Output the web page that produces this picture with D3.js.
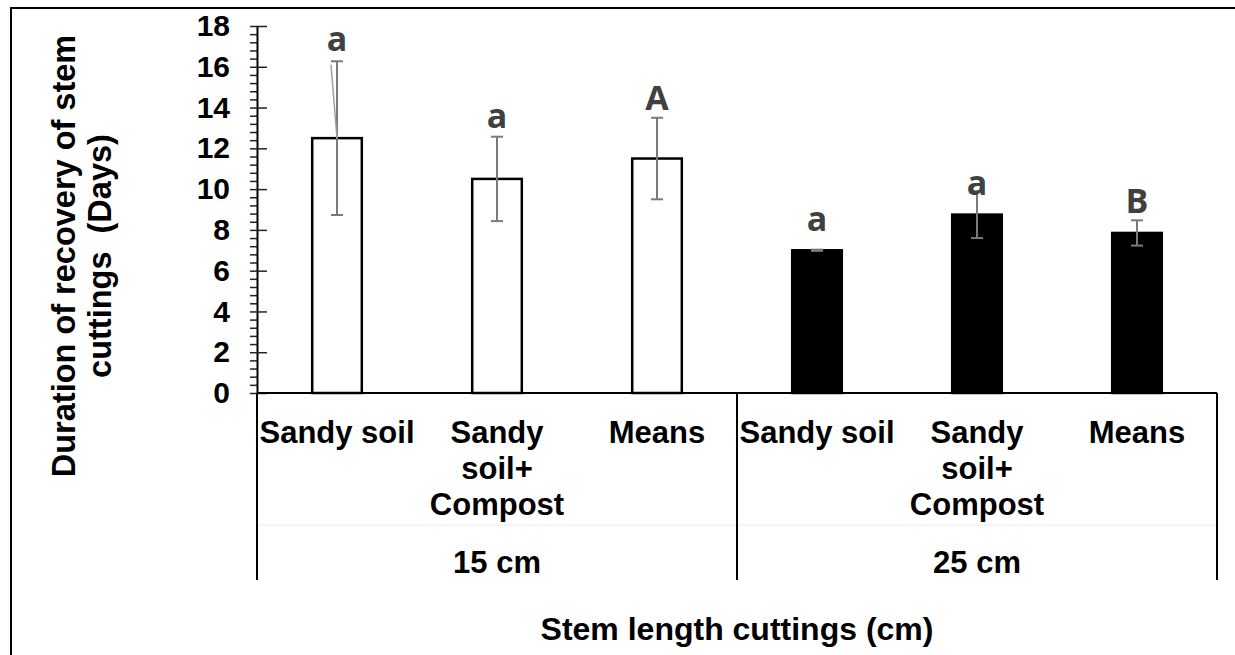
<!DOCTYPE html>
<html>
<head>
<meta charset="utf-8">
<script src="https://cdn.jsdelivr.net/npm/d3@7"></script>
<style>
  body { margin: 0; background: #fff; }
  text { font-family: "Liberation Sans", Arial, sans-serif; font-weight: bold; }
</style>
</head>
<body>
<svg id="chart" width="1235" height="655"></svg>
<script>
// values
let groups = ["15 cm", "25 cm"];
let soils = [["Sandy soil"], ["Sandy", "soil+", "Compost"], ["Means"]];
let means = [12.5, 10.5, 11.5, 7.0, 8.75, 7.85];
let errs = [3.77, 2.07, 2.0, 0.03, 1.15, 0.62];
let letters = ["a", "a", "A", "a", "a", "B"];
let letterAt = [16.75, 13.0, 13.9, 7.93, 9.73, 8.85];
let yTicks = [0, 2, 4, 6, 8, 10, 12, 14, 16, 18];

drawChart();

function drawChart() {
  let svg = d3.select("#chart");

  let left = 257,
    right = 1217,
    top = 26,
    bottom = 393;

  // outer frame (cropped, only top and left visible)
  svg.append("path")
    .attr("d", "M11,655 L11,8 L1235,8")
    .attr("fill", "none")
    .attr("stroke", "black")
    .attr("stroke-width", 2);

  let idx = d3.range(means.length);
  let xScale = d3.scaleBand()
    .domain(idx)
    .range([left, right])
    .paddingInner(0.69)
    .paddingOuter(0.345);
  let step = xScale.step();

  let yScale = d3.scaleLinear().domain([0, 18]).range([bottom, top]);

  // minor ticks
  let minor = d3.range(0, 18.01, 0.4).filter((v) => Math.abs(v / 2 - Math.round(v / 2)) > 0.01);
  svg.append("g")
    .attr("transform", `translate(${left},0)`)
    .call(d3.axisLeft(yScale).tickValues(minor).tickSize(7).tickFormat(""))
    .call((g) => g.select(".domain").remove())
    .selectAll("line")
    .attr("stroke", "#222")
    .attr("stroke-width", 1.5);

  // major ticks + labels
  let yAxis = svg.append("g")
    .attr("transform", `translate(${left},0)`)
    .call(d3.axisLeft(yScale).tickValues(yTicks).tickSize(7).tickSizeOuter(0).tickPadding(20));
  yAxis.select(".domain").attr("stroke", "black").attr("stroke-width", 2);
  yAxis.selectAll(".tick line").attr("x1", 10).attr("stroke", "#222").attr("stroke-width", 1.5);
  yAxis.selectAll(".tick text")
    .attr("fill", "black")
    .style("font-size", "30px")
    .style("font-family", "Liberation Sans, Arial, sans-serif")
    .style("font-weight", "bold");

  // faint row divider in the category table
  svg.append("line")
    .attr("x1", left).attr("x2", right)
    .attr("y1", 525).attr("y2", 525)
    .attr("stroke", "#ececec")
    .attr("stroke-width", 1);

  // bars
  svg.selectAll(".bar")
    .data(idx)
    .enter()
    .append("rect")
    .attr("class", "bar")
    .attr("x", (i) => xScale(i))
    .attr("y", (i) => yScale(means[i]))
    .attr("width", xScale.bandwidth())
    .attr("height", (i) => yScale(0) - yScale(means[i]))
    .attr("fill", (i) => (i < 3 ? "white" : "black"))
    .attr("stroke", "black")
    .attr("stroke-width", 2.5);

  // error bars
  let cx = (i) => xScale(i) + xScale.bandwidth() / 2;
  let err = svg.append("g").attr("stroke", "#7a7a7a").attr("stroke-width", 2);
  idx.forEach((i) => {
    let hi = yScale(means[i] + errs[i]);
    let lo = yScale(means[i] - errs[i]);
    err.append("line").attr("x1", cx(i)).attr("x2", cx(i)).attr("y1", hi).attr("y2", lo);
    err.append("line").attr("x1", cx(i) - 6).attr("x2", cx(i) + 6).attr("y1", hi).attr("y2", hi);
    err.append("line").attr("x1", cx(i) - 6).attr("x2", cx(i) + 6).attr("y1", lo).attr("y2", lo);
  });
  // stray leader line on first bar
  svg.append("line")
    .attr("x1", cx(0) - 6).attr("y1", yScale(16.1))
    .attr("x2", cx(0)).attr("y2", yScale(means[0]))
    .attr("stroke", "#a0a0a0")
    .attr("stroke-width", 1.5);

  // significance letters
  svg.selectAll(".letter")
    .data(idx)
    .enter()
    .append("text")
    .attr("class", "letter")
    .attr("x", cx)
    .attr("y", (i) => yScale(letterAt[i]))
    .attr("text-anchor", "middle")
    .style("font-family", "Open Sans, sans-serif")
    .style("font-size", "34px")
    .style("font-weight", "bold")
    .attr("fill", "#404040")
    .text((i) => letters[i]);

  // x axis line and table verticals
  svg.append("line")
    .attr("x1", left).attr("x2", right)
    .attr("y1", bottom).attr("y2", bottom)
    .attr("stroke", "black").attr("stroke-width", 2);
  [left, left + step * 3, right].forEach((x) => {
    svg.append("line")
      .attr("x1", x).attr("x2", x)
      .attr("y1", bottom).attr("y2", 580)
      .attr("stroke", "black").attr("stroke-width", 2);
  });

  // category labels
  idx.forEach((i) => {
    let lines = soils[i % 3];
    let t = svg.append("text")
      .attr("x", cx(i))
      .attr("y", 443)
      .attr("text-anchor", "middle")
      .style("font-size", "31px")
      .attr("fill", "black");
    lines.forEach((l, j) => {
      t.append("tspan").attr("x", cx(i)).attr("dy", j === 0 ? 0 : 36).text(l);
    });
  });

  // group labels
  groups.forEach((g, k) => {
    svg.append("text")
      .attr("x", left + step * (1.5 + 3 * k))
      .attr("y", 573)
      .attr("text-anchor", "middle")
      .style("font-size", "31px")
      .attr("fill", "black")
      .text(g);
  });

  // axis titles
  svg.append("text")
    .attr("x", (left + right) / 2)
    .attr("y", 640)
    .attr("text-anchor", "middle")
    .style("font-size", "32px")
    .attr("fill", "black")
    .text("Stem length cuttings (cm)");

  let yt = svg.append("text")
    .attr("transform", "translate(0,256) rotate(-90)")
    .attr("text-anchor", "middle")
    .style("font-size", "32.5px")
    .style("white-space", "pre")
    .attr("fill", "black");
  yt.append("tspan").attr("x", 0).attr("y", 75).text("Duration of recovery of stem");
  yt.append("tspan").attr("x", 0).attr("y", 111).text("cuttings  (Days)");
}
</script>
</body>
</html>
